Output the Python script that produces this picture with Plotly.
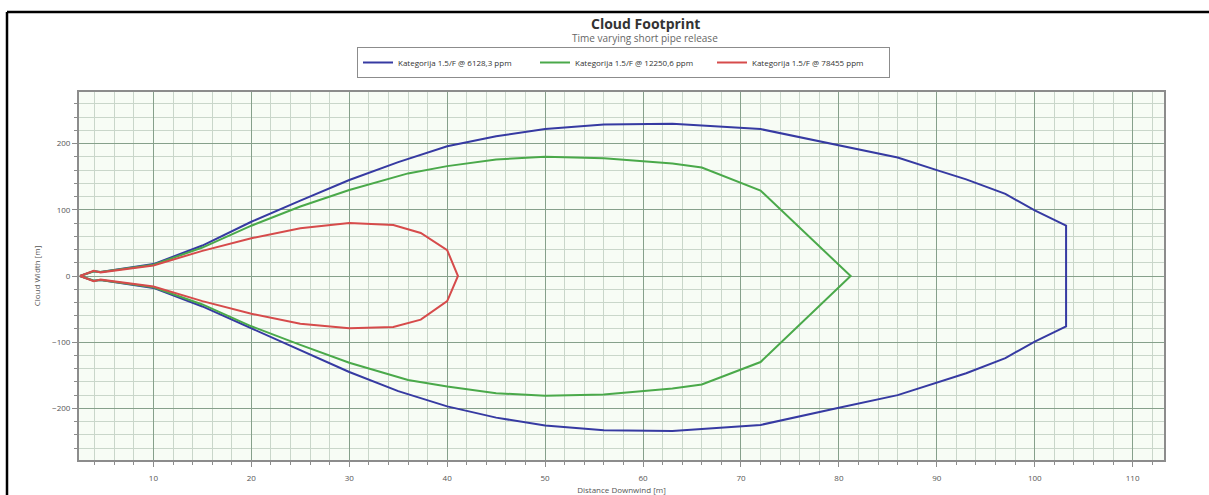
import plotly.graph_objects as go

# Cloud footprint envelopes: downwind distance [m] with upper / lower cloud half-width [m]
blue_name = "Kategorija 1.5/F @ 6128,3 ppm"
blue_x = [2.5, 3.9, 4.6, 10, 15, 20, 25, 30, 35, 40, 45, 50, 56, 63, 72, 80, 86, 90, 93, 97, 100, 103.2]
blue_up = [0, 7, 6, 18, 46, 82, 114, 145, 172, 196, 211, 222, 229, 230, 222, 198, 179, 160, 146, 124, 99, 76]
blue_lo = [0, -7, -6, -18, -46, -80, -112, -145, -174, -197, -214, -226, -233, -234, -225, -199, -180, -161, -147, -124, -99, -76]

green_name = "Kategorija 1.5/F @ 12250,6 ppm"
green_x = [2.5, 3.9, 4.6, 10, 15, 20, 25, 30, 36, 40, 45, 50, 56, 63, 66, 72, 81.2]
green_up = [0, 7, 6, 17, 43, 76, 105, 130, 155, 166, 176, 180, 178, 170, 164, 129, 0]
green_lo = [0, -7, -6, -17, -43, -76, -104, -131, -157, -167, -177, -181, -179, -170, -164, -130, 0]

red_name = "Kategorija 1.5/F @ 78455 ppm"
red_x = [2.5, 3.9, 4.6, 10, 15, 20, 25, 30, 34.5, 37.3, 40, 41.1]
red_up = [0, 8, 5.5, 16, 38, 57, 72, 80, 77, 65, 39, 0]
red_lo = [0, -8, -5.5, -16, -38, -57, -72, -79, -77, -66, -38, 0]

x_ticks = [10, 20, 30, 40, 50, 60, 70, 80, 90, 100, 110]
y_ticks = [-200, -100, 0, 100, 200]

W, H = 1209, 495
ML, MR, MT, MB = 79, 45, 92, 35
PW, PH = W - ML - MR, H - MT - MB


def px_to_paper_x(px):
    return (px - ML) / PW


def px_to_paper_y(py):
    return (H - MB - py) / PH


def outline(xs, up, lo):
    # upper edge left to right, lower edge back right to left
    return list(xs) + list(xs[::-1]), list(up) + list(lo[::-1])


FONT = "Open Sans, Noto Sans, sans-serif"
fig = go.Figure()
for name, xs, up, lo, col in [
    (blue_name, blue_x, blue_up, blue_lo, "#363aa2"),
    (green_name, green_x, green_up, green_lo, "#4aa94a"),
    (red_name, red_x, red_up, red_lo, "#d64b4b"),
]:
    px_, py_ = outline(xs, up, lo)
    fig.add_trace(go.Scatter(x=px_, y=py_, mode="lines", name=name,
                             line=dict(color=col, width=2)))

x_range = [2.4, 113.2]
y_range = [-278, 278]

axis_common = dict(showline=True, linecolor="#8c8c8c", linewidth=2, mirror=True,
                   zeroline=False, ticks="outside", tickcolor="#8c8c8c", ticklen=5,
                   automargin=False,
                   tickfont=dict(family=FONT, size=8, color="#555555"))

fig.update_layout(
    width=W, height=H,
    margin=dict(l=ML, r=MR, t=MT, b=MB),
    paper_bgcolor="white",
    plot_bgcolor="#f7fcf5",
    showlegend=True,
    legend=dict(orientation="h", x=px_to_paper_x(357), xanchor="left",
                y=px_to_paper_y(47), yanchor="top",
                bordercolor="#8c8c8c", borderwidth=1, bgcolor="white",
                font=dict(family=FONT, size=8, color="#333333"),
                entrywidth=132, entrywidthmode="pixels", itemwidth=30,
                tracegroupgap=0),
    xaxis=dict(range=x_range, tickvals=x_ticks, **axis_common,
               ticklabelstandoff=4,
               showgrid=True, gridcolor="#86a08b", gridwidth=1,
               minor=dict(dtick=2, showgrid=True, gridcolor="#c9d6ca",
                          ticks="outside", ticklen=3, tickcolor="#8c8c8c"),
               title=dict(text="Distance Downwind [m]", standoff=6,
                          font=dict(family=FONT, size=8, color="#555555"))),
    yaxis=dict(range=y_range, tickvals=y_ticks, **axis_common,
               showgrid=True, gridcolor="#86a08b", gridwidth=1,
               minor=dict(dtick=20, showgrid=True, gridcolor="#c9d6ca",
                          ticks="outside", ticklen=3, tickcolor="#8c8c8c"),
               title=dict(text="Cloud Width [m]", standoff=10,
                          font=dict(family=FONT, size=8, color="#555555"))),
    # fine light-green graph-paper lines between the minor grid
    xaxis2=dict(range=x_range, overlaying="x", anchor="y2", showline=False,
                zeroline=False, showticklabels=False, ticks="", automargin=False,
                tickvals=list(range(3, 114, 2)), showgrid=True,
                gridcolor="#e0f3de", gridwidth=1),
    yaxis2=dict(range=y_range, overlaying="y", anchor="x2", showline=False,
                zeroline=False, showticklabels=False, ticks="", automargin=False,
                tickvals=list(range(-270, 280, 20)), showgrid=True,
                gridcolor="#e0f3de", gridwidth=1),
)

fig.add_annotation(text="<b>Cloud Footprint</b>", xref="paper", yref="paper",
                   x=px_to_paper_x(645), y=px_to_paper_y(23), showarrow=False,
                   xanchor="center", yanchor="middle",
                   font=dict(family=FONT, size=14, color="#333333"))
fig.add_annotation(text="Time varying short pipe release", xref="paper", yref="paper",
                   x=px_to_paper_x(645), y=px_to_paper_y(38), showarrow=False,
                   xanchor="center", yanchor="middle",
                   font=dict(family=FONT, size=10, color="#666666"))

# black frame along the top and left edges of the panel
fig.add_shape(type="line", xref="paper", yref="paper",
              x0=px_to_paper_x(7), x1=px_to_paper_x(W),
              y0=px_to_paper_y(12), y1=px_to_paper_y(12),
              line=dict(color="black", width=2.5))
fig.add_shape(type="line", xref="paper", yref="paper",
              x0=px_to_paper_x(7), x1=px_to_paper_x(7),
              y0=px_to_paper_y(12), y1=px_to_paper_y(H),
              line=dict(color="black", width=2.5))

fig.write_html("out.html")
